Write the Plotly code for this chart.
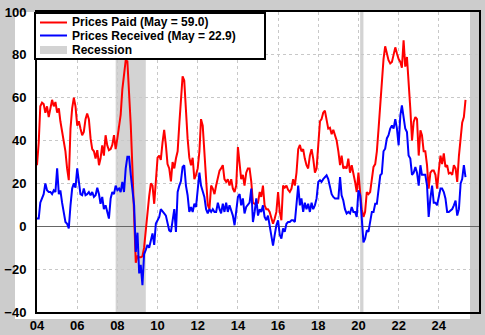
import plotly.graph_objects as go
import pandas as pd

# ---- data (monthly, Jan 2004 - May 2025) ----
start_month = "2004-01-01"
end_month = "2025-05-01"

prices_paid = [
    28.5, 39, 56, 57.7, 57, 53, 56, 51, 55, 59, 56, 58,            # 2004
    53, 55, 49, 44, 41, 35, 27, 21.5, 45.6, 55, 60, 56,            # 2005
    47, 49, 45.6, 42.5, 44, 50, 52.6, 50, 41, 36, 35, 31.6,        # 2006
    35.5, 28.5, 31.6, 37.8, 33, 42.5, 37.8, 35.5, 36, 38, 42.5, 36,  # 2007
    41, 47, 52, 64, 70.5, 77.5, 77, 64, 47, 27, 8, -17,            # 2008
    -14, -14.5, -14.5, -14, -10, -2, 8, 14, 20, 19, 10.5, 23,      # 2009
    32, 33, 31, 39, 45, 38, 29, 27, 21, 30, 27, 31.6,              # 2010
    35, 48, 60, 70, 68, 53, 41, 32, 28.5, 32, 22, 24,              # 2011
    27, 35, 50, 47, 35, 24, 10, 8, 19, 17.6, 15, 19,               # 2012
    22, 26, 27, 28.5, 22, 20.7, 22, 19, 22, 17.6, 16, 19,          # 2013
    37, 30, 22, 24, 19, 25, 27, 27, 20.7, 11, 10.5, 11,            # 2014
    11, 16, 13.7, 19, 9.8, 8, 8, 6.7, 3.6, 1.2, 3.6, 6.7,          # 2015
    16, 6.7, 2.8, 19, 18, 19, 17, 16, 17.6, 22, 19, 25,            # 2016
    36, 38, 35, 36, 31.6, 28.5, 27, 33, 36, 31.6, 25, 27,          # 2017
    38, 49, 50, 53, 54, 49, 45.6, 46, 43, 45, 42.5, 40,            # 2018
    35, 28.5, 33, 27, 27.7, 27, 31.6, 25, 28.5, 25, 20.7, 16,      # 2019
    25, 16, 8, 4.4, 6.7, 16, 15, 16, 22, 27.7, 29, 35,             # 2020
    45.6, 58, 67, 78, 84, 80.6, 77.5, 76, 76.7, 80, 83.5, 80.6,    # 2021
    78, 76.7, 74, 86.8, 74.5, 79, 64, 55, 40, 48.7, 51, 50,        # 2022
    33, 44.8, 42.5, 35, 35, 28.5, 17.6, 25, 26, 26, 24, 17.6,      # 2023
    26, 33, 29, 34, 27.7, 28.5, 24.6, 25, 24, 28.5, 27, 20.7,      # 2024
    32.9, 40.5, 48.3, 51.0, 59.0,                                  # 2025
]

prices_received = [
    3.6, 3.6, 11, 13, 15, 20, 16.8, 16, 16, 15, 16.8, 16,          # 2004
    27, 15, 16.8, 11, 6.7, 2, 1.2, -1, 9.8, 17.6, 20, 18,          # 2005
    27, 20.7, 15, 14.5, 17.6, 14.5, 15, 16, 14.5, 16, 13.7, 14.5,  # 2006
    18, 15, 10.5, 13.7, 8, 9.8, 6.7, 3.6, 13, 16, 15, 19,          # 2007
    16.8, 17.6, 16, 20.7, 16, 27, 32.4, 32.4, 24, 17.6, 9.8, -12,  # 2008
    -3, -22, -18, -27.5, -13, -11, -8.7, -10, -6.4, -3.3, -8.7, 1.3,  # 2009
    2.8, 4.4, 8, 6.7, 6, 5, 2, -1.9, -2.6, 3.6, 8, -2.6,           # 2010
    16, 19, 21, 27.7, 28.5, 19, 14.5, 6.7, 9, 6.7, 10.5, 9,        # 2011
    19, 25, 19, 16, 13.7, 8, 6, 8, 6.7, 8, 6.7, 6.7,               # 2012
    11, 8, 6, 10.5, 6.7, 11, 6.7, 9.8, 7.5, 5, 0.5, 6.7,           # 2013
    13.7, 15, 9.8, 13, 6, 9, 9.8, 11, 17.6, 2, 6.7, 13,            # 2014
    5, 8, 6.7, 9.8, 4.4, 2.8, 5, 0.5, -4, -9, -4, 0.5,             # 2015
    2.8, -4, -5.8, -1, -2.6, 1.2, 2, 2, 2.8, 2.8, 2, 11,           # 2016
    19, 9.8, 13, 6.7, 11, 8, 10.5, 6.7, 11, 8, 9.8, 13,            # 2017
    20.7, 21.5, 20.7, 22, 23, 23.8, 22, 19, 15, 13.7, 13, 13,      # 2018
    13, 23, 14.5, 12, 8, 6, 6.7, 6, 9, 6.7, 6.7, 4.4,              # 2019
    16.8, 14.5, 3.6, -7.5, -5.8, -1.9, -2.6, 2, 6.7, 6.7, 10.5, 10.5,  # 2020
    17.6, 23.8, 24.6, 35, 36.2, 41, 42.5, 45.6, 47, 45.6, 50, 45.6,    # 2021
    37.8, 51.8, 56.4, 50, 45.6, 44, 33, 31.6, 24, 25, 27.7, 25,    # 2022
    19, 28.5, 24, 24, 24, 19, 4.4, 13, 19, 11, 11, 9.8,            # 2023
    14.5, 17.6, 17.6, 16, 13, 6.7, 6.7, 7.5, 8, 9.8, 12, 5,        # 2024
    8, 20, 22, 28.5, 22.9,                                         # 2025
]

recessions = [("2007-12-01", "2009-06-01"), ("2020-02-01", "2020-04-01")]

legend_labels = ["Prices Paid (May = 59.0)", "Prices Received (May = 22.9)", "Recession"]
x_tick_dates = ["2004-01-01", "2006-01-01", "2008-01-01", "2010-01-01", "2012-01-01",
                "2014-01-01", "2016-01-01", "2018-01-01", "2020-01-01", "2022-01-01",
                "2024-01-01"]
y_ticks = [-40, -20, 0, 20, 40, 60, 80, 100]

months = pd.date_range(start_month, end_month, freq="MS")

# ---- styling ----
RED = "#ff0000"
BLUE = "#0000ff"
REC = "#d3d3d3"
BG = "#cccccc"
FONT = "Liberation Sans, Arial, sans-serif"

# pixel helpers (plot area: x 37..479, y 12..312)
W, H = 485, 335
L, R, T, B = 37, 6, 12, 23
PW, PH = W - L - R, H - T - B


def px(x):
    return (x - L) / PW


def py(y):
    return (H - B - y) / PH


fig = go.Figure()
fig.add_trace(go.Scatter(x=months, y=prices_paid, mode="lines",
                         line=dict(color=RED, width=2), name=legend_labels[0]))
fig.add_trace(go.Scatter(x=months, y=prices_received, mode="lines",
                         line=dict(color=BLUE, width=2), name=legend_labels[1]))

shapes = []
# white panel behind the chart
shapes.append(dict(type="rect", xref="paper", yref="paper", layer="below",
                   x0=px(15), x1=px(470), y0=py(319), y1=py(12),
                   fillcolor="white", line=dict(width=0)))
for s, e in recessions:
    shapes.append(dict(type="rect", xref="x", yref="paper", layer="below",
                       x0=s, x1=e, y0=0, y1=1, fillcolor=REC, line=dict(width=0)))
# legend box
shapes.append(dict(type="rect", xref="paper", yref="paper", layer="above",
                   x0=px(35), x1=px(265), y0=py(59), y1=py(13),
                   fillcolor="white", line=dict(color="black", width=2)))
shapes.append(dict(type="line", xref="paper", yref="paper", layer="above",
                   x0=px(40), x1=px(67), y0=py(22.5), y1=py(22.5),
                   line=dict(color=RED, width=2)))
shapes.append(dict(type="line", xref="paper", yref="paper", layer="above",
                   x0=px(40), x1=px(67), y0=py(35.5), y1=py(35.5),
                   line=dict(color=BLUE, width=2)))
shapes.append(dict(type="rect", xref="paper", yref="paper", layer="above",
                   x0=px(40), x1=px(67), y0=py(54), y1=py(46),
                   fillcolor=REC, line=dict(width=0)))

annotations = []
for lab, yy in zip(legend_labels, [22, 36, 50]):
    annotations.append(dict(text="<b>%s</b>" % lab, xref="paper", yref="paper",
                            x=px(71), y=py(yy), xanchor="left", yanchor="middle",
                            showarrow=False, borderpad=0,
                            font=dict(family=FONT, size=12, color="black")))

tickfont = dict(family=FONT, size=13, color="black", weight="bold")

fig.update_layout(
    width=W, height=H,
    margin=dict(l=L, r=R, t=T, b=B, pad=0, autoexpand=False),
    paper_bgcolor=BG,
    plot_bgcolor="rgba(0,0,0,0)",
    showlegend=False,
    shapes=shapes,
    annotations=annotations,
    xaxis=dict(
        type="date", range=["2004-01-01", "2026-01-01"],
        tickvals=x_tick_dates, tickformat="%y", automargin=False,
        showgrid=True, gridcolor="#c8c8c8", griddash="dot", gridwidth=1,
        showline=True, linecolor="black", linewidth=2, mirror=True,
        ticks="", tickfont=tickfont, ticklabelstandoff=0, zeroline=False,
    ),
    yaxis=dict(
        range=[-40, 100], tickvals=y_ticks, automargin=False,
        showgrid=True, gridcolor="#c8c8c8", griddash="dot", gridwidth=1,
        showline=True, linecolor="black", linewidth=2, mirror=True,
        ticks="", tickfont=tickfont, ticklabelstandoff=6,
        zeroline=True, zerolinecolor="#666666", zerolinewidth=1,
    ),
)

fig.write_html("out.html")
